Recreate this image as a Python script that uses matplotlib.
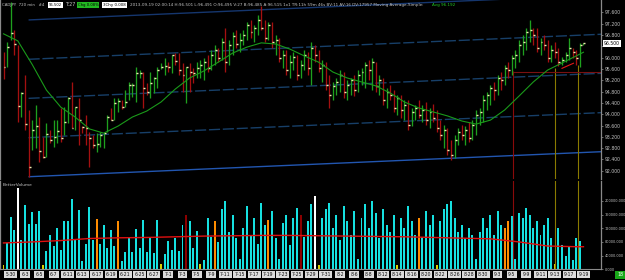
import matplotlib
matplotlib.use("Agg")
import matplotlib.pyplot as plt
import pandas as pd
import numpy as np

plt.rcParams["font.family"] = ["DejaVu Sans"]

# ---------------- data ----------------
first_open = 95.90
high = [96.20, 96.56, 97.96, 96.97, 96.44, 94.79, 95.38, 94.15, 93.79, 94.32,
        93.90, 93.20, 93.68, 93.45, 93.80, 93.80, 94.22, 94.25, 94.60, 95.13,
        94.25, 94.57, 93.60, 93.97, 93.37, 93.26, 93.33, 93.37, 93.33, 93.97,
        94.22, 94.57, 94.57, 94.50, 94.85, 95.13, 95.10, 95.67, 95.56, 95.49,
        95.10, 95.49, 95.30, 95.67, 95.80, 95.98, 95.84, 96.10, 96.16, 96.16,
        95.80, 95.67, 95.80, 95.62, 95.84, 95.91, 95.98, 96.09, 96.27, 96.44,
        96.34, 96.69, 97.04, 96.62, 96.90, 96.97, 96.87, 96.97, 97.26, 97.33,
        97.15, 97.50, 97.82, 97.33, 97.26, 97.26, 96.80, 96.69, 96.27, 96.27,
        96.09, 96.20, 96.09, 95.91, 96.27, 96.20, 96.55, 96.44, 96.27, 95.91,
        95.84, 95.38, 95.14, 95.28, 95.56, 95.49, 95.21, 95.28, 95.38, 95.56,
        95.63, 95.84, 95.91, 95.98, 95.84, 95.38, 95.28, 94.93, 95.03, 94.85,
        94.68, 94.68, 94.50, 94.50, 94.22, 94.32, 94.50, 94.32, 94.43, 94.22,
        94.36, 94.15, 93.79, 93.62, 93.51, 93.09, 93.26, 93.51, 93.62, 93.58,
        93.72, 93.79, 94.15, 94.22, 94.68, 94.78, 95.03, 95.14, 95.38, 95.49,
        95.74, 95.84, 96.09, 96.27, 96.62, 96.80, 97.04, 97.33, 97.04, 97.04,
        96.69, 96.80, 96.62, 96.44, 96.55, 96.34, 96.02, 96.20, 96.69, 96.34,
        96.27, 96.51, 96.51]
low = [95.26, 95.68, 96.62, 96.09, 93.73, 93.91, 93.44, 91.79, 92.73, 92.80,
       92.30, 92.45, 92.49, 92.98, 92.85, 92.98, 93.02, 93.26, 93.68, 93.51,
       93.44, 92.91, 93.33, 92.91, 92.14, 92.80, 92.66, 92.84, 92.80, 93.37,
       93.79, 93.79, 94.08, 94.20, 94.25, 94.50, 94.60, 94.43, 95.28, 94.22,
       94.68, 94.57, 94.75, 94.93, 95.60, 95.38, 95.50, 95.45, 95.74, 95.38,
       94.78, 94.40, 94.78, 95.10, 95.28, 95.28, 95.21, 95.49, 95.56, 95.74,
       95.84, 95.91, 95.49, 95.74, 96.09, 96.34, 96.20, 96.44, 96.62, 96.69,
       96.55, 96.80, 96.97, 96.55, 96.62, 96.34, 96.09, 95.84, 95.63, 95.38,
       95.28, 95.56, 95.21, 95.28, 95.56, 95.38, 95.03, 95.84, 95.49, 95.14,
       94.85, 94.22, 94.50, 94.68, 94.78, 94.57, 94.50, 94.68, 94.64, 94.78,
       95.03, 94.93, 95.21, 94.85, 94.78, 94.68, 94.32, 94.22, 94.50, 94.08,
       93.97, 93.87, 93.79, 93.44, 93.58, 93.79, 93.87, 93.72, 93.62, 93.51,
       93.72, 93.37, 93.09, 92.80, 92.56, 92.38, 92.45, 92.91, 93.09, 92.91,
       93.02, 93.09, 93.26, 93.62, 93.72, 94.15, 94.32, 94.50, 94.68, 94.85,
       95.03, 95.28, 95.38, 95.63, 95.84, 96.09, 96.27, 96.55, 96.44, 96.20,
       96.09, 96.27, 95.84, 95.84, 95.98, 95.70, 95.74, 95.84, 95.91, 95.98,
       95.74, 95.67, 96.44]
close = [95.68, 96.38, 96.88, 96.47, 94.29, 94.74, 93.65, 92.14, 93.44, 93.60,
         92.70, 92.50, 93.30, 93.10, 93.19, 93.40, 93.16, 93.72, 94.58, 93.52,
         94.25, 93.80, 93.55, 93.50, 93.16, 92.91, 92.95, 93.26, 93.33, 93.91,
         93.80, 94.40, 94.47, 94.25, 94.44, 95.03, 95.03, 95.45, 95.47, 94.94,
         94.80, 95.10, 95.28, 95.56, 95.68, 95.71, 95.68, 96.09, 95.89, 95.56,
         95.38, 95.68, 95.50, 95.45, 95.63, 95.74, 95.84, 95.63, 96.09, 96.27,
         95.98, 96.55, 95.84, 96.44, 96.76, 96.48, 96.62, 96.80, 97.15, 96.90,
         97.04, 97.33, 97.04, 96.69, 97.15, 96.55, 96.62, 95.98, 96.09, 95.56,
         95.84, 96.02, 95.38, 95.74, 96.09, 95.63, 96.34, 96.09, 95.63, 95.74,
         95.03, 94.68, 95.00, 95.14, 95.38, 94.78, 95.03, 95.21, 94.85, 95.38,
         95.49, 95.74, 95.56, 95.84, 95.00, 95.21, 94.50, 94.78, 94.68, 94.22,
         94.57, 94.15, 94.32, 93.62, 94.08, 94.22, 93.97, 94.15, 93.79, 94.08,
         93.87, 93.51, 93.26, 93.44, 92.73, 92.56, 93.09, 93.37, 93.26, 93.44,
         93.16, 93.62, 93.97, 94.08, 94.50, 94.68, 94.93, 94.85, 95.28, 95.21,
         95.63, 95.56, 95.98, 96.09, 96.44, 96.55, 96.90, 96.97, 96.80, 96.34,
         96.55, 96.44, 95.98, 96.27, 96.20, 95.84, 95.91, 96.09, 96.34, 96.20,
         95.98, 96.44, 96.50]
volume = [14000, 76000, 152000, 115500, 237000, 86000, 186700, 133000, 167000, 133000,
          169000, 12000, 53000, 100700, 69000, 122000, 56000, 140000, 140000, 204000,
          86000, 172000, 25000, 74000, 181000, 86000, 148000, 74000, 130000, 62000,
          115500, 68000, 142000, 25000, 50000, 93000, 50000, 118500, 62000, 145000,
          50000, 94000, 47000, 145000, 15000, 45000, 83000, 56000, 92000, 53000,
          130000, 158000, 140000, 62000, 110500, 15000, 28000, 150000, 95000, 140000,
          80000, 175000, 200000, 110000, 160000, 90000, 30000, 120000, 185000, 100000,
          150000, 75000, 195000, 130000, 145000, 170000, 90000, 30000, 135000, 160000,
          70000, 150000, 180000, 160000, 95000, 140000, 190000, 215000, 12000, 150000,
          175000, 195000, 120000, 160000, 85000, 185000, 140000, 100000, 170000, 30000,
          150000, 190000, 120000, 200000, 165000, 90000, 175000, 130000, 110000, 160000,
          14000, 150000, 120000, 185000, 140000, 100000, 150000, 95000, 170000, 130000,
          160000, 12000, 140000, 175000, 190000, 200000, 150000, 110000, 130000, 90000,
          120000, 100000, 30000, 110000, 150000, 120000, 160000, 100000, 170000, 130000,
          120000, 140000, 155000, 30000, 165000, 150000, 180000, 160000, 120000, 140000,
          100000, 130000, 150000, 90000, 15000, 120000, 71000, 38000, 66000, 27000,
          90000, 83000, 2000]
yellow_bars = [0, 11, 44, 55, 88, 110, 121, 154]
orange_bars = [26, 32, 59, 74, 116, 140, 141]
darkred_bars = [51, 83]
white_bars = [4, 87]

ma_bars = list(range(0, 161, 4)) + [162]
ma_vals = [96.84, 96.59, 95.76, 94.85, 94.25, 93.90, 93.48, 93.33, 93.58, 93.90,
           94.11, 94.43, 94.89, 95.28, 95.53, 95.84, 96.16, 96.37, 96.52, 96.48,
           96.30, 96.06, 95.84, 95.49, 95.28, 95.14, 95.00, 94.75, 94.43, 94.22,
           94.08, 93.94, 93.76, 93.65, 93.79, 94.15, 94.64, 95.14, 95.56, 95.81,
           96.06, 96.19]
vma_bars = list(range(0, 161, 8)) + [162]
vma_vals = [77000, 80000, 84000, 90000, 92000, 93000, 95000, 97000, 98000, 99000,
            99000, 98000, 97000, 96000, 95000, 93000, 91000, 89000, 80000, 68000,
            66000, 66000]

channel_start = 7
channel_base = [97.33, 95.94, 94.56, 93.17, 91.79]
channel_slope = 0.00553

price_ticks = [92.0, 92.4, 92.8, 93.2, 93.6, 94.0, 94.4, 94.8, 95.2, 95.6,
               96.0, 96.4, 96.8, 97.2, 97.6]
vol_ticks = [0, 40000, 80000, 120000, 160000, 200000]
start_day = "2013-05-29"
last_price = 96.50

# ---------------- figure ----------------
W, H = 625, 280
fig = plt.figure(figsize=(W / 100, H / 100), dpi=100, facecolor="black")
renderer = fig.canvas.get_renderer()
TXT = "#c4c4c4"


def fx(x):
    return x / W


def fy(y):
    return 1 - y / H


def width_px(s, fs):
    t = fig.text(0, 0, s, fontsize=fs)
    w = t.get_window_extent(renderer).width
    t.remove()
    return w


def fit_fs(s, target):
    return 4.0 * target / width_px(s, 4.0)


def put(x_left, x_right, y, s, color=TXT, box=None):
    fs = fit_fs(s, x_right - x_left)
    kw = {}
    if box:
        kw["bbox"] = dict(boxstyle="square,pad=0.2", fc=box, ec="none")
    fig.text(fx(x_left), fy(y), s, fontsize=fs, color=color, va="center", **kw)


FS_PRICE = 3.3
FS_VOL = fit_fs("200000.000", 21)
FS_DATE = 3.3

XL = (-3.5 / 3.58, (601 - 3.5) / 3.58)
ax_p = fig.add_axes([0, fy(179), fx(601), 179 / H])
ax_v = fig.add_axes([0, fy(269.3), fx(601), (269.3 - 181) / H])
for ax, fs in ((ax_p, FS_PRICE), (ax_v, FS_VOL)):
    ax.set_facecolor("black")
    ax.set_xlim(*XL)
    ax.set_xticks([])
    ax.yaxis.tick_right()
    ax.tick_params(axis="y", colors="#9a9a9a", labelcolor=TXT, labelsize=fs,
                   length=1.5, width=0.5, pad=1)
    for s in ("top", "bottom"):
        ax.spines[s].set_visible(False)
    for s in ("left", "right"):
        ax.spines[s].set_color("#8a8a8a")
        ax.spines[s].set_linewidth(0.9)
ax_v.spines["bottom"].set_visible(True)
ax_v.spines["bottom"].set_color("#8a8a8a")
ax_v.spines["bottom"].set_linewidth(0.8)

ax_p.set_ylim(91.71, 98.035)
ax_p.set_yticks(price_ticks)
ax_p.set_yticklabels(["" if abs(t - last_price) < 0.15 else f"{t:.3f}" for t in price_ticks])
ax_v.set_ylim(0, 258000)
ax_v.set_yticks(vol_ticks)
ax_v.set_yticklabels([f"{t:.3f}" for t in vol_ticks])

n = len(close)
idx = np.arange(n)
opens = [first_open] + close[:-1]

# channel lines
x_end = XL[1]
for k, base in enumerate(channel_base):
    xs = [channel_start, x_end]
    ys = [base, base + channel_slope * (x_end - channel_start)]
    if k == 0:
        ax_p.plot(xs, ys, color="#15366e", lw=1.0, solid_capstyle="butt")
    elif k == 4:
        ax_p.plot(xs, ys, color="#2256b0", lw=1.0, solid_capstyle="butt")
    else:
        ax_p.plot(xs, ys, color="#173f68", lw=1.0, dashes=(8, 2))

# vertical/horizontal markers
red_x, olive1_x, olive2_x = 142.3, 154.1, 160.5
ax_p.vlines(red_x, 91.71, 95.52, color="#8a0a0a", lw=0.8)
ax_p.vlines(olive1_x, 91.71, 95.62, color="#8a7a00", lw=0.8)
ax_p.vlines(olive2_x, 91.71, 95.75, color="#8a7a00", lw=0.8)
ax_p.hlines(95.49, red_x, x_end, color="#7a1010", lw=0.8)
ax_p.plot([156, 159.2], [95.62, 95.80], color="#e01818", lw=0.8)
for xv, c in ((red_x, "#8a0a0a"), (olive1_x, "#8a7a00"), (olive2_x, "#8a7a00")):
    ax_v.axvline(xv, color=c, lw=0.8)

# OHLC bars
cols = ["#1ea01e" if c >= o else "#a41010" for c, o in zip(close, opens)]
ax_p.vlines(idx, low, high, colors=cols, lw=0.95)
ax_p.hlines(close, idx, idx + 0.55, colors="#eeeeb0", lw=1.0)

# moving average
ax_p.plot(ma_bars, ma_vals, color="#1a9a1a", lw=0.8)

# volume
vcols = []
for i in range(n):
    if i in yellow_bars:
        vcols.append("#d8d000")
    elif i in orange_bars:
        vcols.append("#ff8c00")
    elif i in darkred_bars:
        vcols.append("#8b0000")
    elif i in white_bars:
        vcols.append("#ffffff")
    else:
        vcols.append("#16e0e0")
ax_v.bar(idx, volume, width=0.55, color=vcols, linewidth=0)
ax_v.plot(vma_bars, vma_vals, color="#e01010", lw=1.0)

# date labels
days = pd.bdate_range(start_day, periods=82)
for i in range(2, n, 4):
    d = days[i // 2]
    ax_v.annotate(f"{d.month}-{d.day}", xy=(i, 0), xycoords="data",
                  xytext=(0, -3.9), textcoords="offset points",
                  ha="center", va="center", fontsize=FS_DATE, color="#101010",
                  bbox=dict(boxstyle="square,pad=0.25", fc="#dcdcdc", ec="none"))

# current price box
ax_p.annotate(f"{last_price:.3f}", xy=(1, last_price), xycoords=("axes fraction", "data"),
              xytext=(2.0, 0), textcoords="offset points", ha="left", va="center",
              fontsize=FS_PRICE, color="black",
              bbox=dict(boxstyle="square,pad=0.2", fc="white", ec="none"))

# bottom-right green box
fig.text(fx(620), fy(275), "18", fontsize=FS_PRICE, color="white", ha="center", va="center",
         bbox=dict(boxstyle="square,pad=0.4", fc="#18a818", ec="none"))

# header line
yh = 5
put(2, 44, yh, "CADJPY  720 min   #4")
put(49, 62, yh, "96.502", color="black", box="white")
put(65, 75, yh, "T:27")
put(78, 98, yh, "Chg 0.08%", color="black", box="#22b822")
put(103, 126, yh, "3Chy 0.008", color="black", box="white")
put(130, 426, yh,
    "2013-09-19 02:00:14 H:96.501 L:96.491 O:96.495 V:27 B:96.485 A:96.515 1x1 "
    "TR:11h 59m 46s BV:11 AV:16 DV:17957 Moving Average-Simple:")
put(432, 455, yh, "Avg 96.192", color="#22c822")

put(3, 33, 185, "BetterVolume")

fig.savefig("out.png", dpi=100, facecolor="black")
